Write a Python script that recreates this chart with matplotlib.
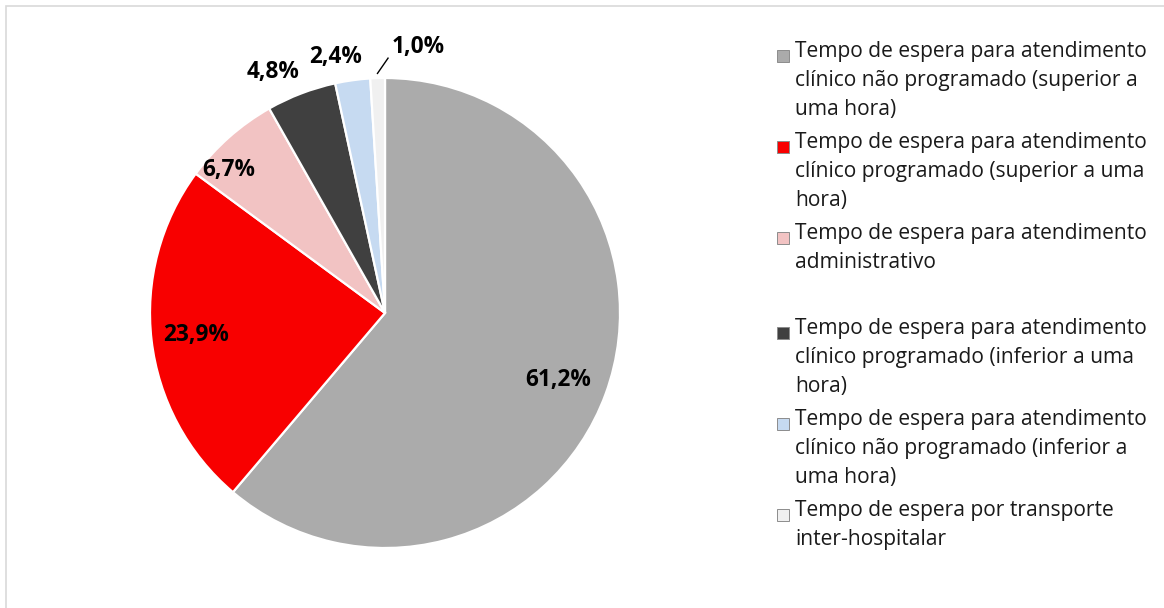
import matplotlib
matplotlib.use("Agg")
import matplotlib.pyplot as plt
import numpy as np
from matplotlib.patches import Rectangle

# ---- data ----
categories = [
    "Tempo de espera para atendimento\nclínico não programado (superior a\numa hora)",
    "Tempo de espera para atendimento\nclínico programado (superior a uma\nhora)",
    "Tempo de espera para atendimento\nadministrativo",
    "Tempo de espera para atendimento\nclínico programado (inferior a uma\nhora)",
    "Tempo de espera para atendimento\nclínico não programado (inferior a\numa hora)",
    "Tempo de espera por transporte\ninter-hospitalar",
]
values = [61.2, 23.9, 6.7, 4.8, 2.4, 1.0]
value_labels = ["61,2%", "23,9%", "6,7%", "4,8%", "2,4%", "1,0%"]

# ---- styles ----
colors = ["#ABABAB", "#F80000", "#F2C3C3", "#404040", "#C6DAF1", "#F0F0F0"]
label_radius = [0.79, 0.81, 0.90, 1.13, 1.11, 1.14]
label_angle_shift = [-1.0, 0.0, 6.0, 4.0, 3.0, -9.0]
legend_gap_after = [0, 0, 33, 0, 0, 0]  # extra px after entry

W, H = 1164, 608
plt.rcParams["font.family"] = ["Open Sans", "DejaVu Sans"]
fig = plt.figure(figsize=(W / 100, H / 100), dpi=100)
fig.patch.set_facecolor("white")

# chart border
fig.add_artist(Rectangle((6 / W, -0.1), 1.2, 1 - 6 / H + 0.1, transform=fig.transFigure,
                         fill=False, edgecolor="#D9D9D9", linewidth=1.2))

cx, cy, R = 385, 313, 235
ax = fig.add_axes([(cx - R) / W, 1 - (cy + R) / H, 2 * R / W, 2 * R / H])
wedges, _ = ax.pie(values, colors=colors, startangle=90, counterclock=False,
                   radius=1.0, wedgeprops=dict(edgecolor="#FFFFFF", linewidth=1.6))
ax.set_xlim(-1, 1)
ax.set_ylim(-1, 1)
ax.set_aspect("auto")
ax.axis("off")

for i, w in enumerate(wedges):
    mid = np.deg2rad((w.theta1 + w.theta2) / 2 + label_angle_shift[i])
    r = label_radius[i]
    x, y = r * np.cos(mid), r * np.sin(mid)
    ax.text(x, y, value_labels[i], ha="center", va="center", fontsize=16.3,
            fontweight="bold", color="black", clip_on=False, zorder=5)
    if i == len(wedges) - 1:
        a = np.deg2rad((w.theta1 + w.theta2) / 2)
        ax.plot([1.02 * np.cos(a), 1.02 * np.cos(a) + 0.045],
                [1.02 * np.sin(a), 1.02 * np.sin(a) + 0.065],
                color="black", lw=1.0, clip_on=False)

# legend (manual)
line_h = 29.0
para_gap = 4.0
baseline = 57.0
x_marker, x_text = 777, 795
ms = 12
for i, lab in enumerate(categories):
    nlines = lab.count("\n") + 1
    fig.add_artist(Rectangle((x_marker / W, 1 - (baseline - 1 + ms / 2) / H), ms / W, ms / H,
                             transform=fig.transFigure, facecolor=colors[i],
                             edgecolor="#8C8C8C", linewidth=0.7))
    for k, ln in enumerate(lab.split("\n")):
        fig.text(x_text / W, 1 - (baseline + k * line_h) / H, ln, ha="left",
                 va="baseline", fontsize=15.1, color="#1A1A1A")
    baseline += line_h * nlines + para_gap + legend_gap_after[i]

fig.savefig("out.png", dpi=100, facecolor="white")
